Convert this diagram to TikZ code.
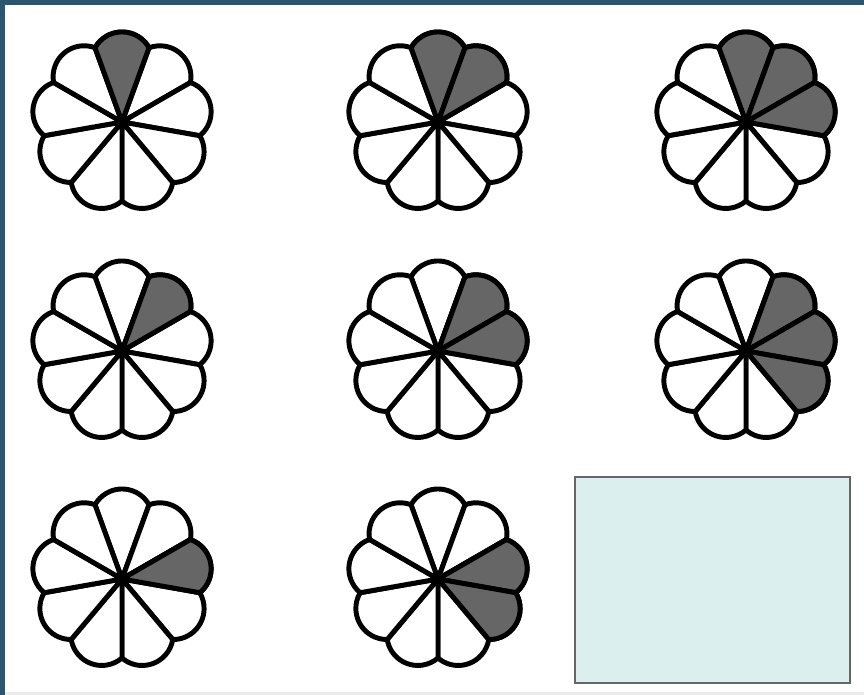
\documentclass[tikz,border=0pt]{standalone}
\usepackage{tikz}
\usetikzlibrary{positioning}

\definecolor{petalgray}{HTML}{666666}
\definecolor{panelcyan}{HTML}{DCEFEF}
\definecolor{frameblue}{HTML}{2E5570}

\begin{document}
\begin{tikzpicture}[
    x=0.02cm, y=-0.02cm,
    petal/.style={draw=black, line width=2.8pt, line join=round, fill=white},
    shadedpetal/.style={petal, fill=petalgray},
    panel/.style={draw=black!60, line width=1.2pt, fill=panelcyan},
]
  % Canvas and frame
  \useasboundingbox (0,0) rectangle (864,695);
  \fill[white] (0,0) rectangle (864,695);
  \fill[black!8] (0,692) rectangle (864,695);
  \fill[frameblue] (0,0) rectangle (864,5);
  \fill[frameblue] (0,0) rectangle (5,695);

  % Flowers: centre x / centre y / shaded petals (degrees clockwise from top)
  \foreach \cx/\cy/\shaded [count=\i] in {
      122/122/{0}, 438/122/{0,40}, 746/122/{0,40,80},
      122/351/{40}, 438/351/{40,80}, 746/351/{40,80,120},
      122/579/{80}, 438/579/{80,120}} {
    \coordinate (flower\i) at (\cx,\cy);
    \begin{scope}[shift={(flower\i)}]
      % all nine petals
      \foreach \t in {0,40,...,320} {
        \pgfmathsetmacro{\a}{\t-90}
        \draw[petal] (0,0) -- (\a+20:79)
          arc[start angle=\a+60.6, end angle=\a-60.6, radius=31] -- cycle;
      }
      % shaded petals on top
      \foreach \t in \shaded {
        \pgfmathsetmacro{\a}{\t-90}
        \draw[shadedpetal] (0,0) -- (\a+20:79)
          arc[start angle=\a+60.6, end angle=\a-60.6, radius=31] -- cycle;
      }
      \fill[black] (0,0) circle (4);
    \end{scope}
  }

  % Empty panel
  \node[panel, minimum width=275*0.02cm, minimum height=206*0.02cm,
        inner sep=0pt] (panel) at (712.5,580) {};
\end{tikzpicture}
\end{document}
